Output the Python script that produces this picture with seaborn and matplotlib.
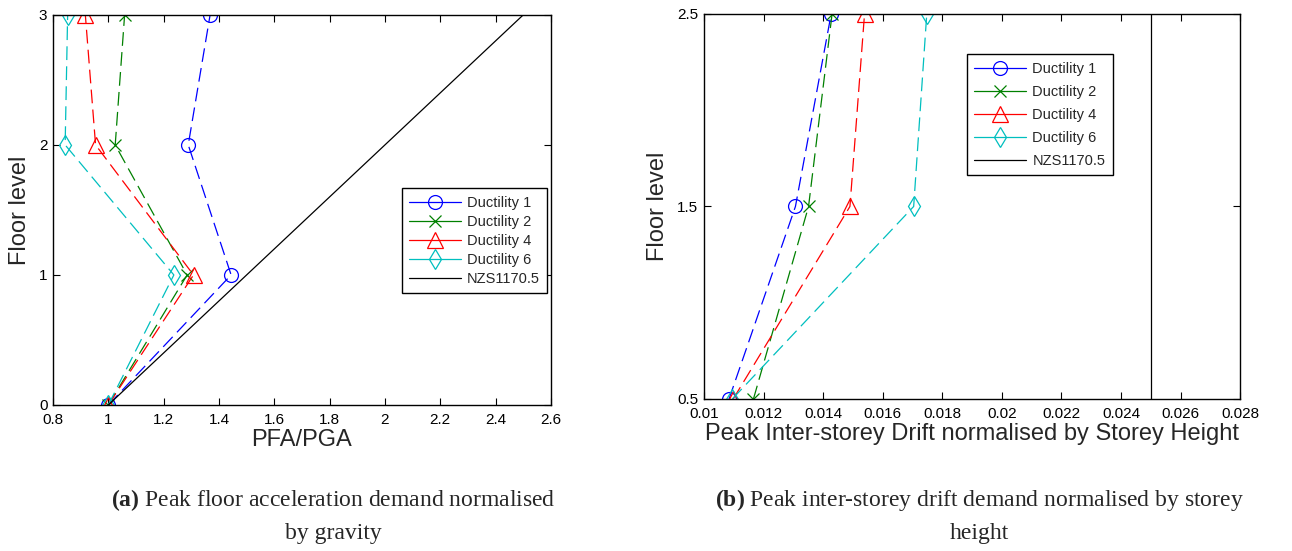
import numpy as np
import pandas as pd
import seaborn as sns
import matplotlib.pyplot as plt
from matplotlib.lines import Line2D

# data
floors_a = [0, 1, 2, 3]
pfa_d1 = [1.0, 1.444, 1.289, 1.368]
pfa_d2 = [1.0, 1.285, 1.025, 1.059]
pfa_d4 = [1.0, 1.308, 0.954, 0.917]
pfa_d6 = [1.0, 1.237, 0.844, 0.853]
nzs_a_x = [1.0, 2.5]
nzs_a_y = [0, 3]

floors_b = [0.5, 1.5, 2.5]
drift_d1 = [0.01084, 0.01307, 0.01427]
drift_d2 = [0.01166, 0.01351, 0.01430]
drift_d4 = [0.01098, 0.01490, 0.01539]
drift_d6 = [0.01095, 0.01704, 0.01748]
nzs_b_x = [0.025, 0.025]
nzs_b_y = [0.5, 2.5]

labels = ["Ductility 1", "Ductility 2", "Ductility 4", "Ductility 6"]
colors = ["#0000ff", "#008000", "#ff0000", "#00bfbf"]
markers = ["o", "x", "^", "d"]
msizes = [10, 8, 11, 10]

sns.set_theme(style="ticks")
plt.rcParams['font.family'] = ['Liberation Sans', 'DejaVu Sans']
plt.rcParams['mathtext.fontset'] = 'custom'
plt.rcParams['mathtext.rm'] = 'Liberation Serif'
plt.rcParams['mathtext.bf'] = 'Liberation Serif:bold'

fig = plt.figure(figsize=(12.92, 5.51), dpi=100)
ax1 = fig.add_axes([0.041, 0.265, 0.3854, 0.708])
ax2 = fig.add_axes([0.5449, 0.2759, 0.4149, 0.6987])


def draw(ax, series, floors, nzs_x, nzs_y):
    for vals, c, m, ms in zip(series, colors, markers, msizes):
        df = pd.DataFrame({"x": vals, "y": floors})
        sns.lineplot(data=df, x="x", y="y", sort=False, estimator=None, ax=ax,
                     color=c, marker=m, markersize=ms, markerfacecolor="none",
                     markeredgecolor=c, markeredgewidth=0.9, linewidth=0.9,
                     linestyle=(0, (11, 5)))
    df = pd.DataFrame({"x": nzs_x, "y": nzs_y})
    sns.lineplot(data=df, x="x", y="y", sort=False, estimator=None, ax=ax,
                 color="black", linewidth=0.9)


draw(ax1, [pfa_d1, pfa_d2, pfa_d4, pfa_d6], floors_a, nzs_a_x, nzs_a_y)
draw(ax2, [drift_d1, drift_d2, drift_d4, drift_d6], floors_b, nzs_b_x, nzs_b_y)

ax1.set_xlim(0.8, 2.6)
ax1.set_ylim(0, 3)
ax1.set_xticks(np.arange(0.8, 2.61, 0.2))
ax1.set_xticklabels(["0.8", "1", "1.2", "1.4", "1.6", "1.8", "2", "2.2", "2.4", "2.6"])
ax1.set_yticks([0, 1, 2, 3])
ax1.set_xlabel("PFA/PGA", fontsize=17, labelpad=1)
ax1.set_ylabel("Floor level", fontsize=17, labelpad=6)

ax2.set_xlim(0.01, 0.028)
ax2.set_ylim(0.5, 2.5)
ax2.set_xticks(np.arange(0.01, 0.0281, 0.002))
ax2.set_xticklabels(["0.01", "0.012", "0.014", "0.016", "0.018", "0.02",
                     "0.022", "0.024", "0.026", "0.028"])
ax2.set_yticks([0.5, 1.5, 2.5])
ax2.set_yticklabels(["0.5", "1.5", "2.5"])
ax2.set_xlabel("Peak Inter-storey Drift normalised by Storey Height", fontsize=17, labelpad=1)
ax2.set_ylabel("Floor level", fontsize=17, labelpad=6)

for ax in (ax1, ax2):
    for s in ax.spines.values():
        s.set_visible(True)
        s.set_color("black")
        s.set_linewidth(1.0)
    ax.tick_params(direction="in", top=True, right=True, length=5, width=0.8,
                   labelsize=11, colors="black")
    ax.tick_params(axis="x", pad=6)
    ax.tick_params(axis="y", pad=4)

# legend handles drawn solid, as in the reference
handles = [Line2D([], [], color=c, marker=m, markersize=ms, markerfacecolor="none",
                  markeredgecolor=c, markeredgewidth=0.9, linewidth=0.9)
           for c, m, ms in zip(colors, markers, msizes)]
handles.append(Line2D([], [], color="black", linewidth=0.9))
leg_labels = labels + ["NZS1170.5"]

leg_kw = dict(fontsize=10.5, handlelength=3.6, frameon=True, fancybox=False,
              edgecolor="black", framealpha=1, borderpad=0.5,
              handletextpad=0.4, borderaxespad=0)
l1 = ax1.legend(handles, leg_labels, loc="upper left", bbox_to_anchor=(0.70, 0.555),
                labelspacing=0.35, **leg_kw)
l2 = ax2.legend(handles, leg_labels, loc="upper left", bbox_to_anchor=(0.49, 0.895),
                labelspacing=0.62, **leg_kw)
for lg in (l1, l2):
    lg.get_frame().set_linewidth(1.0)

cap = dict(ha="center", va="center", fontsize=17, family="Liberation Serif")
fig.text(0.258, 0.092, r"$\bf{(a)}$ Peak floor acceleration demand normalised", **cap)
fig.text(0.258, 0.032, "by gravity", **cap)
fig.text(0.758, 0.092, r"$\bf{(b)}$ Peak inter-storey drift demand normalised by storey", **cap)
fig.text(0.758, 0.032, "height", **cap)

plt.savefig("out.png", dpi=100)
